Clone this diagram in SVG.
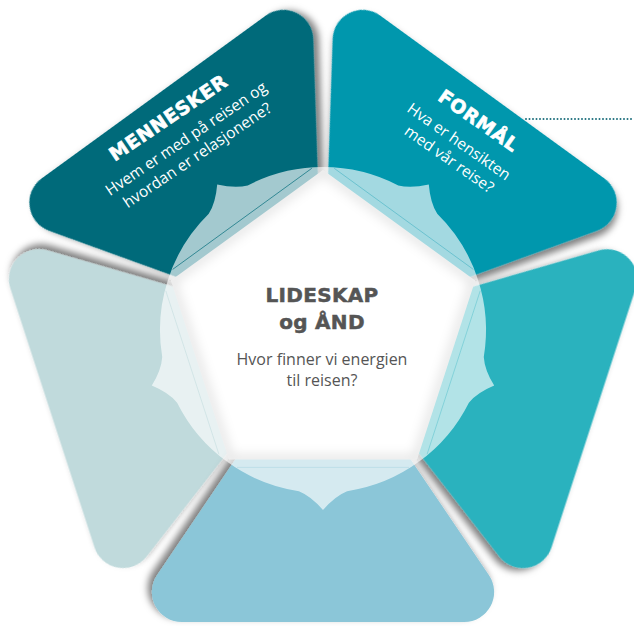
<svg xmlns="http://www.w3.org/2000/svg" xmlns:xlink="http://www.w3.org/1999/xlink" width="634" height="626" viewBox="0 0 634 626">
  <defs>
    <style>
      .ttl { font-family: "DejaVu Sans", "Liberation Sans", sans-serif; font-weight: bold; font-size: 19px; fill: #ffffff; stroke: #ffffff; stroke-width: 0.6px; letter-spacing: 0.6px; text-anchor: middle; }
      .pb { font-family: "Open Sans", "Liberation Sans", sans-serif; font-size: 15.5px; fill: #ffffff; text-anchor: middle; }
      .ct { font-family: "DejaVu Sans", "Liberation Sans", sans-serif; font-weight: bold; font-size: 20px; fill: #555555; stroke: #555555; stroke-width: 0.5px; letter-spacing: 0.3px; text-anchor: middle; }
      .cb { font-family: "Open Sans", "Liberation Sans", sans-serif; font-size: 16px; fill: #555555; text-anchor: middle; }
      .thin { fill: none; stroke-width: 0.7; }
    </style>
    <filter id="shadow" x="-20%" y="-20%" width="140%" height="140%">
      <feDropShadow dx="4" dy="4" stdDeviation="3.5" flood-color="#000000" flood-opacity="0.5"/>
    </filter>
    <filter id="blur" x="-20%" y="-20%" width="140%" height="140%">
      <feGaussianBlur stdDeviation="6"/>
    </filter>
    <!-- petal shapes in local frame: bisector pointing up, origin at hub centre -->
    <path id="petalTop" d="M0 0 L-163.29 -241.19 A30 30 0 0 1 -138.45 -288 L138.45 -288 A30 30 0 0 1 163.29 -241.19 Z"/>
    <path id="petalSide" d="M0 0 L-160.92 -237.69 A30 30 0 0 1 -136.08 -284.5 L136.08 -284.5 A30 30 0 0 1 160.92 -237.69 Z"/>
    <path id="petalBottom" d="M0 0 L-165.99 -245.19 A30 30 0 0 1 -141.15 -292 L141.15 -292 A30 30 0 0 1 165.99 -245.19 Z"/>
    <path id="glow" d="M0 0 L-95.81 -131.87 A163 163 0 0 1 -24.09 -161.21 Q-12 -166 0 -180 Q12 -166 24.09 -161.21 A163 163 0 0 1 95.81 -131.87 Z"/>
    <clipPath id="pentClip">
      <polygon points="323,170 475.17,280.56 417.05,459.44 228.95,459.44 170.83,280.56"/>
    </clipPath>
  </defs>

  <rect x="0" y="0" width="634" height="626" fill="#ffffff"/>

  <g id="mennesker">
    <use xlink:href="#petalTop" href="#petalTop" transform="translate(323 330) rotate(-36)" fill="#006b7a" filter="url(#shadow)"/>
    <g transform="translate(189 143) rotate(-34)">
      <text class="ttl" x="-3" y="-26">MENNESKER</text>
      <text class="pb" x="0" y="0">Hvem er med på reisen og</text>
      <text class="pb" x="0" y="20">hvordan er relasjonene?</text>
    </g>
  </g>

  <g id="formaal">
    <use xlink:href="#petalTop" href="#petalTop" transform="translate(323 330) rotate(36)" fill="#0097ad" filter="url(#shadow)"/>
    <g transform="translate(456 146) rotate(35)">
      <text class="ttl" x="4" y="-27">FORMÅL</text>
      <text class="pb" x="0" y="0">Hva er hensikten</text>
      <text class="pb" x="2" y="20">med vår reise?</text>
    </g>
  </g>

  <g id="venstre">
    <use xlink:href="#petalSide" href="#petalSide" transform="translate(323 330) rotate(252)" fill="#c0dadc" filter="url(#shadow)"/>
  </g>

  <g id="hoyre">
    <use xlink:href="#petalSide" href="#petalSide" transform="translate(323 330) rotate(108)" fill="#2bb2be" filter="url(#shadow)"/>
  </g>

  <g id="bunn">
    <use xlink:href="#petalBottom" href="#petalBottom" transform="translate(323 330) rotate(180)" fill="#8bc6d8" filter="url(#shadow)"/>
  </g>

  <g id="lideskap">
    <g opacity="0.64" fill="#ffffff">
      <use xlink:href="#glow" href="#glow" transform="translate(323 330) rotate(-36)"/>
      <use xlink:href="#glow" href="#glow" transform="translate(323 330) rotate(36)"/>
      <use xlink:href="#glow" href="#glow" transform="translate(323 330) rotate(108)"/>
      <use xlink:href="#glow" href="#glow" transform="translate(323 330) rotate(180)"/>
      <use xlink:href="#glow" href="#glow" transform="translate(323 330) rotate(252)"/>
    </g>
    <g transform="translate(323 330)">
      <line class="thin" x1="-86" y1="-137.4" x2="86" y2="-137.4" stroke="#006b7a" stroke-opacity="0.9" transform="rotate(-36)"/>
      <line class="thin" x1="-86" y1="-137.4" x2="86" y2="-137.4" stroke="#0097ad" stroke-opacity="0.45" transform="rotate(36)"/>
      <line class="thin" x1="-86" y1="-137.4" x2="86" y2="-137.4" stroke="#2bb2be" stroke-opacity="0.45" transform="rotate(108)"/>
      <line class="thin" x1="-86" y1="-137.4" x2="86" y2="-137.4" stroke="#8bc6d8" stroke-opacity="0.45" transform="rotate(180)"/>
      <line class="thin" x1="-86" y1="-137.4" x2="86" y2="-137.4" stroke="#a9cdd0" stroke-opacity="0.45" transform="rotate(252)"/>
    </g>
    <polygon points="323,170 475.17,280.56 417.05,459.44 228.95,459.44 170.83,280.56" fill="#ffffff"/>
    <polygon points="323,170 475.17,280.56 417.05,459.44 228.95,459.44 170.83,280.56" fill="none" stroke="#000000" stroke-opacity="0.12" stroke-width="8" filter="url(#blur)" clip-path="url(#pentClip)"/>
    <text class="ct" x="322" y="302">LIDESKAP</text>
    <text class="ct" x="322" y="329">og ÅND</text>
    <text class="cb" x="322" y="365">Hvor finner vi energien</text>
    <text class="cb" x="322" y="386">til reisen?</text>
  </g>

  <g id="connectors">
    <line x1="526" y1="119" x2="634" y2="119" stroke="#1e6f7d" stroke-width="2" stroke-dasharray="0 3.5" stroke-linecap="round"/>
  </g>
</svg>
